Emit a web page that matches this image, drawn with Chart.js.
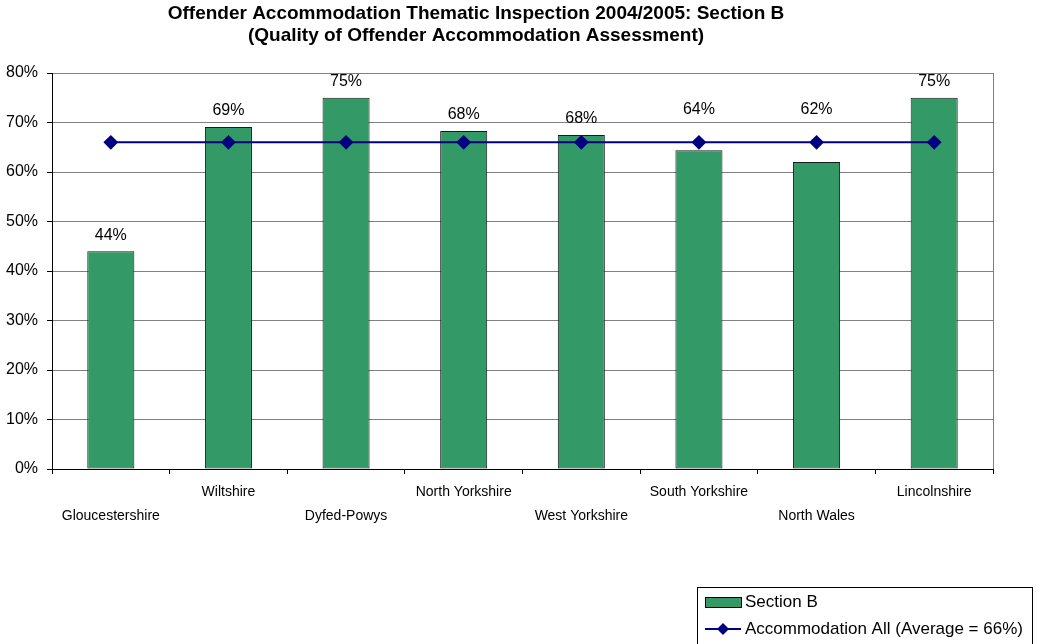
<!DOCTYPE html>
<html>
<head>
<meta charset="utf-8">
<title>Offender Accommodation Thematic Inspection</title>
<script src="https://cdn.jsdelivr.net/npm/chart.js@4"></script>
<style>
  html, body { margin: 0; padding: 0; background: #fff; }
  #wrap { width: 1041px; height: 644px; }
</style>
</head>
<body>
<div id="wrap"><canvas id="sectionChart" width="1041" height="644"></canvas></div>
<script>
// data
const areas = ['Gloucestershire', 'Wiltshire', 'Dyfed-Powys', 'North Yorkshire',
               'West Yorkshire', 'South Yorkshire', 'North Wales', 'Lincolnshire'];
const sectionB = [44, 69.1, 75, 68.3, 67.5, 64.4, 62, 75];
const accommodationAll = [66, 66, 66, 66, 66, 66, 66, 66];
const titleLines = ['Offender Accommodation Thematic Inspection 2004/2005: Section B',
                    '(Quality of Offender Accommodation Assessment)'];

const FONT = "'Liberation Sans', Arial, sans-serif";

// labels alternate between two rows, like the original
const tickLabels = areas.map((name, i) => i % 2 === 0 ? ['', name] : [name]);

// title drawn by hand so it sits where the original has it
const titlePlugin = {
    id: 'titleText',
    afterDraw(chart) {
        const ctx = chart.ctx;
        ctx.save();
        ctx.fillStyle = '#000';
        ctx.font = 'bold 19px ' + FONT;
        ctx.textAlign = 'center';
        ctx.textBaseline = 'middle';
        titleLines.forEach((t, i) => ctx.fillText(t, 476, 14 + i * 22));
        ctx.restore();
    }
};

// grey frame on the right side of the plot
const framePlugin = {
    id: 'frame',
    beforeDatasetsDraw(chart) {
        const a = chart.chartArea;
        const ctx = chart.ctx;
        ctx.save();
        ctx.strokeStyle = '#808080';
        ctx.lineWidth = 1;
        ctx.beginPath();
        ctx.moveTo(Math.round(a.right) + 0.5, a.top);
        ctx.lineTo(Math.round(a.right) + 0.5, a.bottom);
        ctx.stroke();
        ctx.restore();
    }
};

// percentage labels above the bars, lifted over the average line when they would hit it
const valueLabels = {
    id: 'valueLabels',
    afterDatasetsDraw(chart) {
        const ctx = chart.ctx;
        const meta = chart.getDatasetMeta(0);
        const lineY = chart.getDatasetMeta(1).data[0].y;
        ctx.save();
        ctx.fillStyle = '#000';
        ctx.font = '16px ' + FONT;
        ctx.textAlign = 'center';
        ctx.textBaseline = 'middle';
        meta.data.forEach((bar, i) => {
            let y = bar.y - 16;
            if (y > lineY - 16 && y < lineY + 16) y = lineY - 33;
            ctx.fillText(Math.round(sectionB[i]) + '%', bar.x, y);
        });
        ctx.restore();
    }
};

// boxed legend in the lower right corner
const boxLegend = {
    id: 'boxLegend',
    afterDraw(chart) {
        const ctx = chart.ctx;
        const ds = chart.data.datasets;
        const x = 697, y = 587, w = 335, h = 70;
        ctx.save();
        ctx.fillStyle = '#fff';
        ctx.fillRect(x, y, w, h);
        ctx.strokeStyle = '#000';
        ctx.lineWidth = 1;
        ctx.strokeRect(x + 0.5, y + 0.5, w, h);

        ctx.font = '17px ' + FONT;
        ctx.textBaseline = 'middle';
        ctx.textAlign = 'left';

        // bars
        ctx.fillStyle = ds[0].backgroundColor;
        ctx.fillRect(705, 597, 36, 10);
        ctx.strokeStyle = '#000';
        ctx.strokeRect(705.5, 597.5, 36, 10);
        ctx.fillStyle = '#000';
        ctx.fillText(ds[0].label, 745, 602);

        // line
        ctx.strokeStyle = ds[1].borderColor;
        ctx.lineWidth = 2;
        ctx.beginPath();
        ctx.moveTo(705, 629);
        ctx.lineTo(741, 629);
        ctx.stroke();
        ctx.fillStyle = ds[1].pointBackgroundColor;
        ctx.beginPath();
        ctx.moveTo(723, 623);
        ctx.lineTo(729, 629);
        ctx.lineTo(723, 635);
        ctx.lineTo(717, 629);
        ctx.closePath();
        ctx.fill();
        ctx.fillStyle = '#000';
        ctx.fillText(ds[1].label, 745, 629);
        ctx.restore();
    }
};

new Chart(document.getElementById('sectionChart'), {
    type: 'bar',
    data: {
        labels: tickLabels,
        datasets: [{
            type: 'bar',
            label: 'Section B',
            data: sectionB,
            backgroundColor: '#339966',
            borderColor: '#1a1a1a',
            borderWidth: 1,
            borderSkipped: false,
            categoryPercentage: 1,
            barPercentage: 0.4,
            order: 1
        }, {
            type: 'line',
            label: 'Accommodation All (Average = 66%)',
            data: accommodationAll,
            borderColor: '#000080',
            borderWidth: 2,
            pointStyle: 'rectRot',
            pointRadius: 6,
            pointBackgroundColor: '#000080',
            pointBorderColor: '#000080',
            fill: false,
            order: 0
        }]
    },
    options: {
        responsive: false,
        animation: false,
        devicePixelRatio: 1,
        layout: { padding: { top: 73, right: 48, bottom: 115, left: 0 } },
        plugins: {
            legend: { display: false },
            title: { display: false },
            tooltip: { enabled: false }
        },
        scales: {
            x: {
                grid: {
                    offset: true,
                    drawOnChartArea: false,
                    drawTicks: true,
                    tickLength: 5,
                    tickColor: '#000'
                },
                border: { color: '#000', width: 1 },
                ticks: {
                    color: '#000',
                    font: { family: FONT, size: 14, lineHeight: 1.71 },
                    padding: 6,
                    autoSkip: false,
                    maxRotation: 0
                },
                afterFit(scale) { scale.height = 60; }
            },
            y: {
                min: 0,
                max: 80,
                grid: {
                    color: '#808080',
                    tickLength: 5,
                    tickColor: '#000'
                },
                border: { color: '#000', width: 1 },
                ticks: {
                    stepSize: 10,
                    color: '#000',
                    padding: 9,
                    font: { family: FONT, size: 16 },
                    callback: v => v + '%'
                },
                afterFit(scale) { scale.width = 52; }
            }
        }
    },
    plugins: [titlePlugin, framePlugin, valueLabels, boxLegend]
});
</script>
</body>
</html>
